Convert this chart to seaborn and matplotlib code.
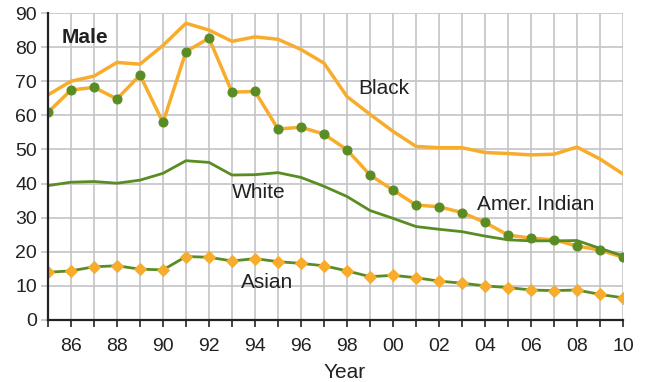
import numpy as np
import pandas as pd
import matplotlib.pyplot as plt
import seaborn as sns

years = list(range(1985, 2011))

black = [66, 70, 71.5, 75.5, 75, 80.5, 87, 85, 81.7, 83, 82.3, 79.3, 75.3,
         65.5, 60.3, 55.3, 50.9, 50.5, 50.5, 49.1, 48.8, 48.4, 48.6, 50.7, 47.2, 42.8]
amer_indian = [60.9, 67.4, 68.2, 64.8, 71.8, 57.9, 78.7, 82.6, 66.8, 67, 56, 56.5, 54.5,
               49.9, 42.5, 38.1, 33.7, 33.2, 31.5, 28.6, 24.9, 24, 23.5, 21.7, 20.5, 18.4]
white = [39.4, 40.4, 40.6, 40.1, 41, 43, 46.7, 46.2, 42.5, 42.6, 43.2, 41.8, 39.2,
         36.2, 32.1, 29.8, 27.4, 26.6, 25.9, 24.6, 23.5, 23.2, 23.2, 23.3, 21, 18.8]
asian = [14, 14.4, 15.6, 15.9, 14.9, 14.7, 18.6, 18.4, 17.3, 18, 17.1, 16.6, 15.9,
         14.4, 12.7, 13.1, 12.4, 11.4, 10.8, 10, 9.5, 8.8, 8.6, 8.8, 7.5, 6.5]

xtick_years = list(range(1986, 2011, 2))
xtick_labels = [f"{y % 100:02d}" for y in xtick_years]

ORANGE = "#F8AC2C"
GREEN = "#5A8C24"
GRID = "#C4C4C6"
INK = "#222222"

df = pd.DataFrame({"Year": years, "Black": black, "Amer. Indian": amer_indian,
                   "White": white, "Asian": asian})

sns.set_style("white")
plt.rcParams['font.family'] = ['Liberation Sans', 'DejaVu Sans']

fig = plt.figure(figsize=(6.51, 3.82), dpi=100)
ax = fig.add_axes([48 / 651, 62 / 382, 575 / 651, 307 / 382])

ax.set_xlim(1985, 2010)
ax.set_ylim(0, 90)
ax.set_yticks(np.arange(0, 91, 10))
ax.set_xticks(years, minor=True)
ax.set_xticks(xtick_years)
ax.set_xticklabels(xtick_labels)

# grid drawn as plain lines on the tick positions
for yr in years:
    ax.axvline(yr, color=GRID, linewidth=1.2, zorder=0.5)
for v in np.arange(10, 91, 10):
    ax.axhline(v, color=GRID, linewidth=1.2, zorder=0.5)

sns.lineplot(data=df, x="Year", y="Black", ax=ax, color=ORANGE, linewidth=2.5)
sns.lineplot(data=df, x="Year", y="Amer. Indian", ax=ax, color=ORANGE, linewidth=2.5,
             marker="o", markersize=6.5, markerfacecolor=GREEN, markeredgecolor=GREEN)
sns.lineplot(data=df, x="Year", y="White", ax=ax, color=GREEN, linewidth=2.0)
sns.lineplot(data=df, x="Year", y="Asian", ax=ax, color=GREEN, linewidth=2.0,
             marker="D", markersize=6, markerfacecolor=ORANGE, markeredgecolor=ORANGE)
ax.set_xlim(1985, 2010)
ax.set_ylim(0, 90)

for s in ["top", "right"]:
    ax.spines[s].set_visible(False)
for s in ["left", "bottom"]:
    ax.spines[s].set_color(INK)
    ax.spines[s].set_linewidth(1.6)
    ax.spines[s].set_zorder(3)

ax.tick_params(axis="x", which="both", bottom=True, direction="out", length=5, width=1.2,
               color=INK, labelsize=14, labelcolor=INK, pad=8)
ax.tick_params(axis="y", which="major", left=True, direction="out", length=5, width=1.2,
               color=GRID, labelsize=14, labelcolor=INK, pad=3)

ax.set_xlabel("Year", fontsize=15, color=INK, labelpad=6, x=0.5165)
ax.set_ylabel("")

lab = dict(fontsize=15, color=INK, va="center")
ax.text(1985.6, 82.8, "Male", fontweight="bold", **lab)
ax.text(1998.5, 68, "Black", **lab)
ax.text(1993.0, 37.5, "White", **lab)
ax.text(1993.4, 11.1, "Asian", **lab)
ax.text(2003.65, 34, "Amer. Indian", **lab)

plt.savefig("out.png", dpi=100)
plt.close()
